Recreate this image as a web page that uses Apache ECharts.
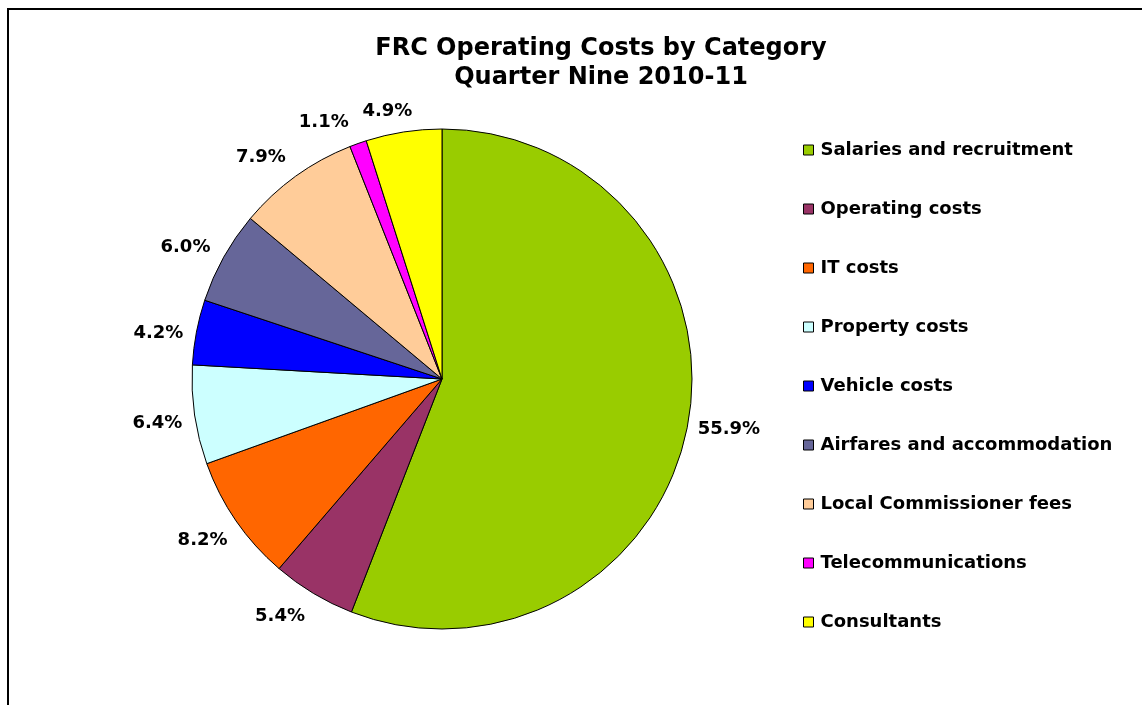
<!DOCTYPE html>
<html>
<head>
<meta charset="utf-8">
<title>FRC Operating Costs by Category</title>
<script src="https://cdn.jsdelivr.net/npm/echarts@6/dist/echarts.min.js"></script>
<style>
  html, body { margin: 0; padding: 0; background: #ffffff; }
  #chart { width: 1142px; height: 705px; }
</style>
</head>
<body>
<div id="chart"></div>
<script>
// Cost categories and their share of operating costs (%)
const categories = [
  'Salaries and recruitment',
  'Operating costs',
  'IT costs',
  'Property costs',
  'Vehicle costs',
  'Airfares and accommodation',
  'Local Commissioner fees',
  'Telecommunications',
  'Consultants'
];
const shares = [55.9, 5.4, 8.2, 6.4, 4.2, 6.0, 7.9, 1.1, 4.9];
const colors = ['#99CC00', '#993366', '#FF6600', '#CCFFFF', '#0000FF', '#666699', '#FFCC99', '#FF00FF', '#FFFF00'];

// Label placement tweaks (px): gap outside the rim, and a sideways slide along the rim
const labelGap = [9, 16, 13, 12, 11, 12, 14, 15, 10];
const labelSlide = [-3, 17, 3, -3, -8, -10, -17, -25, -13];

const FONT = '"DejaVu Sans", Verdana, sans-serif';
const CX = 442, CY = 379, R = 250;

// Mid-angle of each slice (clockwise from 12 o'clock)
const total = shares.reduce((a, b) => a + b, 0);
const midAngles = [];
let acc = 0;
shares.forEach(v => { midAngles.push((acc + v / 2) / total * 2 * Math.PI); acc += v; });

const chart = echarts.init(document.getElementById('chart'), null, { renderer: 'canvas' });

chart.setOption({
  backgroundColor: '#ffffff',
  animation: false,
  title: {
    text: 'FRC Operating Costs by Category\nQuarter Nine 2010-11',
    left: 596,
    top: 29,
    textAlign: 'center',
    textStyle: {
      fontFamily: FONT,
      fontWeight: 'bold',
      fontSize: 24,
      lineHeight: 29,
      color: '#000000'
    }
  },
  legend: {
    orient: 'vertical',
    left: 803,
    top: 141,
    padding: 0,
    itemWidth: 10,
    itemHeight: 10,
    itemGap: 41,
    icon: 'rect',
    selectedMode: false,
    itemStyle: { borderColor: '#000000', borderWidth: 1 },
    textStyle: {
      fontFamily: FONT,
      fontWeight: 'bold',
      fontSize: 18,
      lineHeight: 18,
      color: '#000000',
      padding: [0, 0, 0, 2]
    },
    data: categories
  },
  graphic: [{
    type: 'rect',
    shape: { x: 8, y: 9, width: 1300, height: 900 },
    style: { fill: 'none', stroke: '#000000', lineWidth: 2 },
    z: 100
  }],
  series: [{
    type: 'pie',
    center: [CX, CY],
    radius: R,
    startAngle: 90,
    clockwise: true,
    avoidLabelOverlap: false,
    itemStyle: { borderColor: '#000000', borderWidth: 1 },
    emphasis: { disabled: true },
    label: {
      show: true,
      position: 'outside',
      formatter: p => p.value.toFixed(1) + '%',
      fontFamily: FONT,
      fontWeight: 'bold',
      fontSize: 18,
      lineHeight: 18,
      color: '#000000'
    },
    labelLine: { show: false },
    labelLayout: function (p) {
      const i = p.dataIndex;
      const a = midAngles[i];
      const ux = Math.sin(a), uy = -Math.cos(a);   // outward
      const tx = Math.cos(a), ty = Math.sin(a);    // along the rim, clockwise
      const w = p.labelRect.width, h = p.labelRect.height;
      const half = Math.abs(ux) * w / 2 + Math.abs(uy) * h / 2;
      const d = R + labelGap[i] + half;
      const s = labelSlide[i];
      return {
        x: CX + d * ux + s * tx,
        y: CY + d * uy + s * ty,
        align: 'center',
        verticalAlign: 'middle'
      };
    },
    data: categories.map((name, i) => ({
      name: name,
      value: shares[i],
      itemStyle: { color: colors[i] }
    }))
  }]
});
</script>
</body>
</html>
